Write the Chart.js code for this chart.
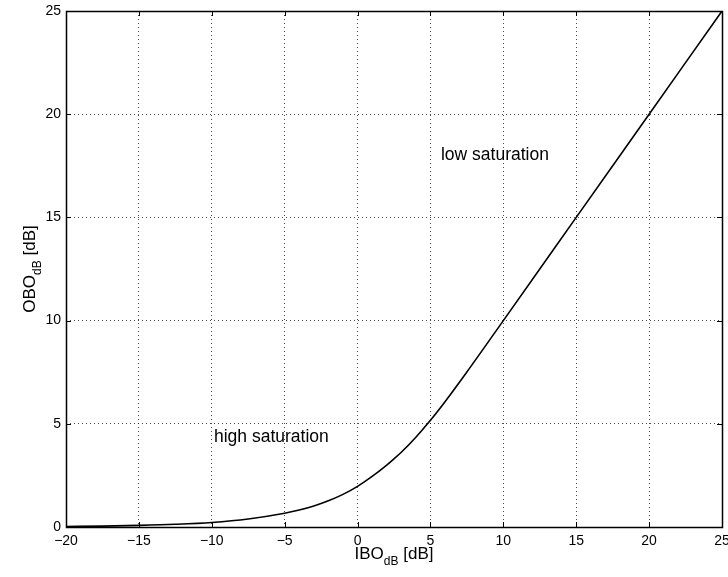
<!DOCTYPE html>
<html>
<head>
<meta charset="utf-8">
<script src="https://cdn.jsdelivr.net/npm/chart.js@4/dist/chart.umd.min.js"></script>
<style>
  html, body { margin: 0; padding: 0; background: #fff; }
  #wrap { width: 728px; height: 577px; position: relative; }
</style>
</head>
<body>
<div id="wrap"><canvas id="c" width="728" height="577"></canvas></div>
<script>
// ---- data ----
const iboValues = [-20, -17.5, -15, -12.5, -10, -7.5, -5, -4, -3, -2, -1, 0, 1, 2, 2.5, 3, 4, 5, 6, 7.5, 10, 15, 20, 25];
const oboValues = [0.024, 0.044, 0.077, 0.13, 0.22, 0.39, 0.67, 0.82, 1.02, 1.27, 1.58, 1.97, 2.45, 3.0, 3.3, 3.62, 4.35, 5.17, 6.07, 7.51, 10, 15, 20, 25];
const xTicks = [-20, -15, -10, -5, 0, 5, 10, 15, 20, 25];
const yTicks = [0, 5, 10, 15, 20, 25];
const annotationTexts = ['high saturation', 'low saturation'];
const annotationX = [-9.85, 5.72];
const annotationY = [4.14, 17.8];

const FONT = '"Liberation Sans", Arial, Helvetica, sans-serif';

const frame = {
  id: 'frame',
  afterDatasetsDraw(chart) {
    const { ctx, chartArea: a, scales: { x, y } } = chart;
    ctx.save();
    ctx.strokeStyle = '#000';
    ctx.lineWidth = 1;
    // inward ticks
    ctx.beginPath();
    xTicks.forEach(v => {
      const px = Math.round(x.getPixelForValue(v)) + 0.5;
      ctx.moveTo(px, a.bottom); ctx.lineTo(px, a.bottom - 5);
      ctx.moveTo(px, a.top); ctx.lineTo(px, a.top + 5);
    });
    yTicks.forEach(v => {
      const py = Math.round(y.getPixelForValue(v)) + 0.5;
      ctx.moveTo(a.left, py); ctx.lineTo(a.left + 5, py);
      ctx.moveTo(a.right, py); ctx.lineTo(a.right - 5, py);
    });
    ctx.stroke();
    // box
    ctx.lineWidth = 1.5;
    ctx.strokeRect(Math.round(a.left) + 0.5, Math.round(a.top) + 0.5, Math.round(a.right - a.left), Math.round(a.bottom - a.top));
    // annotations
    ctx.fillStyle = '#000';
    ctx.font = '17.5px ' + FONT;
    ctx.textBaseline = 'alphabetic';
    ctx.textAlign = 'left';
    annotationTexts.forEach((t, i) => {
      ctx.fillText(t, x.getPixelForValue(annotationX[i]), y.getPixelForValue(annotationY[i]));
    });
    // axis titles with subscripts
    const drawSub = (main, sub, rest) => {
      ctx.font = '17px ' + FONT;
      const w1 = ctx.measureText(main).width;
      const w3 = ctx.measureText(rest).width;
      ctx.font = '12px ' + FONT;
      const w2 = ctx.measureText(sub).width;
      const total = w1 + w2 + w3;
      let sx = -total / 2;
      ctx.font = '17px ' + FONT;
      ctx.fillText(main, sx, 0);
      ctx.font = '12px ' + FONT;
      ctx.fillText(sub, sx + w1, 6);
      ctx.font = '17px ' + FONT;
      ctx.fillText(rest, sx + w1 + w2, 0);
    };
    ctx.save();
    ctx.translate((a.left + a.right) / 2, 559);
    drawSub('IBO', 'dB', ' [dB]');
    ctx.restore();
    ctx.save();
    ctx.translate(35, (a.top + a.bottom) / 2);
    ctx.rotate(-Math.PI / 2);
    drawSub('OBO', 'dB', ' [dB]');
    ctx.restore();
    ctx.restore();
  }
};

const fmt = v => (v < 0 ? '\u2212' + Math.abs(v) : String(v));

new Chart(document.getElementById('c'), {
  type: 'line',
  data: {
    datasets: [{
      data: iboValues.map((v, i) => ({ x: v, y: oboValues[i] })),
      borderColor: '#000',
      borderWidth: 1.6,
      pointRadius: 0,
      fill: false,
      cubicInterpolationMode: 'monotone'
    }]
  },
  options: {
    responsive: false,
    animation: false,
    devicePixelRatio: 1,
    layout: { padding: { top: 11, right: 6, left: 0, bottom: 0 } },
    plugins: { legend: { display: false }, tooltip: { enabled: false } },
    scales: {
      x: {
        type: 'linear', min: -20, max: 25,
        afterBuildTicks: s => { s.ticks = xTicks.map(v => ({ value: v })); },
        afterFit: s => { s.height = 50; s.paddingLeft = 0; s.paddingRight = 0; },
        border: { display: false, dash: [1, 3] },
        grid: { color: 'rgba(0,0,0,0.7)', lineWidth: 1, drawTicks: false },
        ticks: { color: '#000', font: { family: FONT, size: 14 }, padding: 6, maxRotation: 0, callback: v => fmt(v) }
      },
      y: {
        type: 'linear', min: 0, max: 25,
        afterBuildTicks: s => { s.ticks = yTicks.map(v => ({ value: v })); },
        afterFit: s => { s.width = 66; s.paddingTop = 0; s.paddingBottom = 0; },
        border: { display: false, dash: [1, 3] },
        grid: { color: 'rgba(0,0,0,0.7)', lineWidth: 1, drawTicks: false },
        ticks: { color: '#000', font: { family: FONT, size: 14 }, padding: 5, callback: v => fmt(v) }
      }
    }
  },
  plugins: [frame]
});
</script>
</body>
</html>
